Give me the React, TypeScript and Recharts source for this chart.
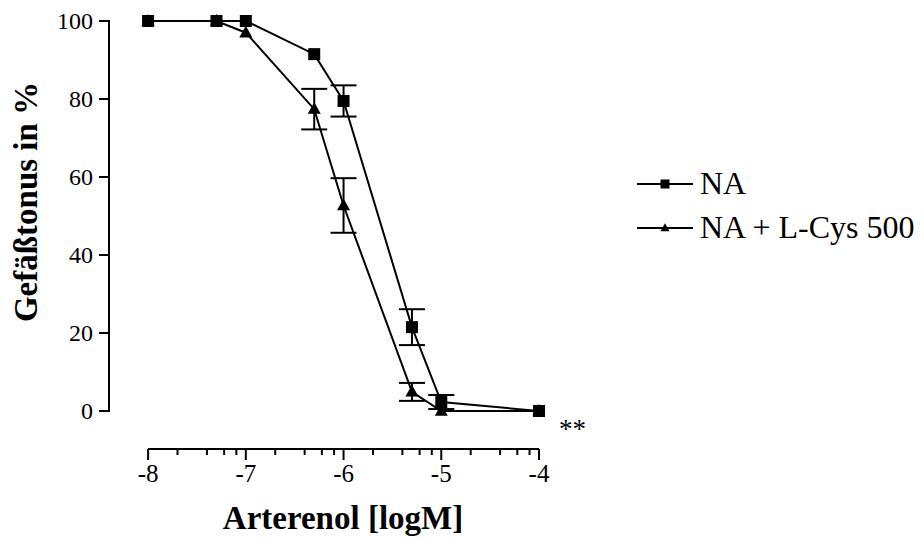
import React from 'react';
import { ComposedChart, Line, XAxis, YAxis, ErrorBar, ReferenceLine, Legend, LabelList } from 'recharts';

const FONT = '"Liberation Serif", "Times New Roman", serif';

// log concentration of Arterenol
const doses = [-8, -7.3, -7, -6.3, -6, -5.3, -5, -4];
const naMean = [100, 100, 100, 91.5, 79.5, 21.5, 2.3, 0];
const naSem = [null, null, null, null, 4, 4.6, 1.8, null];
const cysMean = [100, 100, 97, 77.4, 52.7, 4.9, 0, 0];
const cysSem = [null, null, null, 5.2, 7, 2.3, null, null];
const signif = ['', '', '', '', '', '', '', '**'];

const yTicks = [0, 20, 40, 60, 80, 100];
const xMajor = [-8, -7, -6, -5, -4];
const minorSteps = [2, 4, 6, 8];

const xTitle = 'Arterenol [logM]';
const yTitle = 'Gefäßtonus in %';

const xTicks = xMajor.flatMap((d, i) =>
  i < xMajor.length - 1 ? [d, ...minorSteps.map(k => d + Math.log10(k))] : [d]
);

const rows = doses.map((dose, i) => ({
  dose,
  na: naMean[i],
  naErr: naSem[i],
  cys: cysMean[i],
  cysErr: cysSem[i],
  sig: signif[i],
}));

const W = 924;
const H = 547;
const MARGIN = { top: 21, right: 385, bottom: 36, left: 49 };
const Y_AXIS_W = 60;
const X_AXIS_H = 100;
const PLOT_H = H - MARGIN.top - MARGIN.bottom - X_AXIS_H;
const PLOT_W = W - MARGIN.left - MARGIN.right - Y_AXIS_W;

const X_MIN = -8.4;
const X_MAX = -4;
// x axis is drawn detached, below the y range
const X_AXIS_DROP = 38;
const X_AXIS_Y = (-X_AXIS_DROP / PLOT_H) * 100;
const Y_STEP_PX = PLOT_H / (yTicks.length - 1);

const Square = ({ cx, cy, size = 12 }: any) =>
  cx == null || cy == null ? null : (
    <rect x={cx - size / 2} y={cy - size / 2} width={size} height={size} fill="#000" />
  );

const Triangle = ({ cx, cy, size = 13 }: any) => {
  if (cx == null || cy == null) return null;
  const h = size * 0.9;
  return (
    <polygon
      points={`${cx},${cy - h * 0.6} ${cx - size / 2},${cy + h * 0.4} ${cx + size / 2},${cy + h * 0.4}`}
      fill="#000"
    />
  );
};

const XTick = ({ x, y, payload }: any) => {
  const major = Number.isInteger(payload.value);
  const y0 = y + X_AXIS_DROP;
  // the first major tick also carries the y axis line, at the left edge of the plot
  const axisX = x - ((payload.value - X_MIN) / (X_MAX - X_MIN)) * PLOT_W;
  return (
    <g>
      {payload.value === xMajor[0] && (
        <line x1={axisX} x2={axisX} y1={y + 1} y2={y - PLOT_H - 1} stroke="#000" strokeWidth={2} />
      )}
      <line x1={x} x2={x} y1={y0} y2={y0 + (major ? 11 : 6)} stroke="#000" strokeWidth={2} />
      {major && (
        <text x={x} y={y0 + 33} textAnchor="middle" fontSize={25} fontFamily={FONT} fill="#000">
          {payload.value}
        </text>
      )}
    </g>
  );
};

const YTick = ({ x, y, payload }: any) => (
  <g>
    {payload.value < yTicks[yTicks.length - 1] && (
      <line x1={x} x2={x} y1={y + 1} y2={y - Y_STEP_PX - 1} stroke="#000" strokeWidth={2} />
    )}
    <line x1={x - 10} x2={x} y1={y} y2={y} stroke="#000" strokeWidth={2} />
    <text x={x - 16} y={y + 8} textAnchor="end" fontSize={24} fontFamily={FONT} fill="#000">
      {payload.value}
    </text>
  </g>
);

const legendItems = [
  { name: 'NA', Marker: Square },
  { name: 'NA + L-Cys 500', Marker: Triangle },
];

const renderLegend = () => (
  <svg width={290} height={90}>
    {legendItems.map(({ name, Marker }, i) => {
      const cy = 22 + i * 44;
      return (
        <g key={name}>
          <line x1={1} x2={57} y1={cy} y2={cy} stroke="#000" strokeWidth={2} />
          <Marker cx={29} cy={cy} size={9} />
          <text x={64} y={cy + 10} fontSize={32} fontFamily={FONT} fill="#000">
            {name}
          </text>
        </g>
      );
    })}
  </svg>
);

const SigLabel = ({ x, y, value }: any) =>
  value ? (
    <text x={x + 20} y={y + 27} fontSize={27} fontFamily={FONT} fill="#000">
      {value}
    </text>
  ) : null;

const titleStyle: React.CSSProperties = {
  position: 'absolute',
  fontFamily: FONT,
  fontSize: 33,
  fontWeight: 'bold',
  lineHeight: 1,
  whiteSpace: 'nowrap',
  color: '#000',
};

export default function App() {
  return (
    <div style={{ position: 'absolute', left: 0, top: 0, width: W, height: H, background: '#fff' }}>
      <ComposedChart width={W} height={H} data={rows} margin={MARGIN}>
        <XAxis
          type="number"
          dataKey="dose"
          domain={[X_MIN, X_MAX]}
          ticks={xTicks}
          interval={0}
          height={X_AXIS_H}
          axisLine={false}
          tickLine={false}
          tickSize={0}
          tickMargin={0}
          tick={<XTick />}
        />
        <YAxis
          type="number"
          domain={[0, 100]}
          ticks={yTicks}
          interval={0}
          width={Y_AXIS_W}
          axisLine={{ stroke: '#000', strokeWidth: 2 }}
          tickLine={false}
          tickSize={0}
          tickMargin={0}
          tick={<YTick />}
        />
        <ReferenceLine
          segment={[{ x: -8, y: X_AXIS_Y }, { x: -4, y: X_AXIS_Y }]}
          stroke="#000"
          strokeWidth={2}
          ifOverflow="visible"
        />
        <Line
          dataKey="cys"
          name="NA + L-Cys 500"
          stroke="#000"
          strokeWidth={2}
          dot={<Triangle />}
          activeDot={false}
          isAnimationActive={false}
        >
          <ErrorBar dataKey="cysErr" direction="y" width={13} stroke="#000" strokeWidth={2} />
          <LabelList dataKey="sig" content={<SigLabel />} />
        </Line>
        <Line
          dataKey="na"
          name="NA"
          stroke="#000"
          strokeWidth={2}
          dot={<Square />}
          activeDot={false}
          isAnimationActive={false}
        >
          <ErrorBar dataKey="naErr" direction="y" width={13} stroke="#000" strokeWidth={2} />
        </Line>
        <Legend
          layout="vertical"
          align="center"
          verticalAlign="middle"
          wrapperStyle={{ left: 636, top: 162, width: 290 }}
          content={renderLegend}
        />
      </ComposedChart>
      <div style={{ ...titleStyle, left: 343, top: 502, transform: 'translateX(-50%)' }}>{xTitle}</div>
      <div style={{ ...titleStyle, left: 26, top: 202, transform: 'translate(-50%, -50%) rotate(-90deg)' }}>
        {yTitle}
      </div>
    </div>
  );
}
